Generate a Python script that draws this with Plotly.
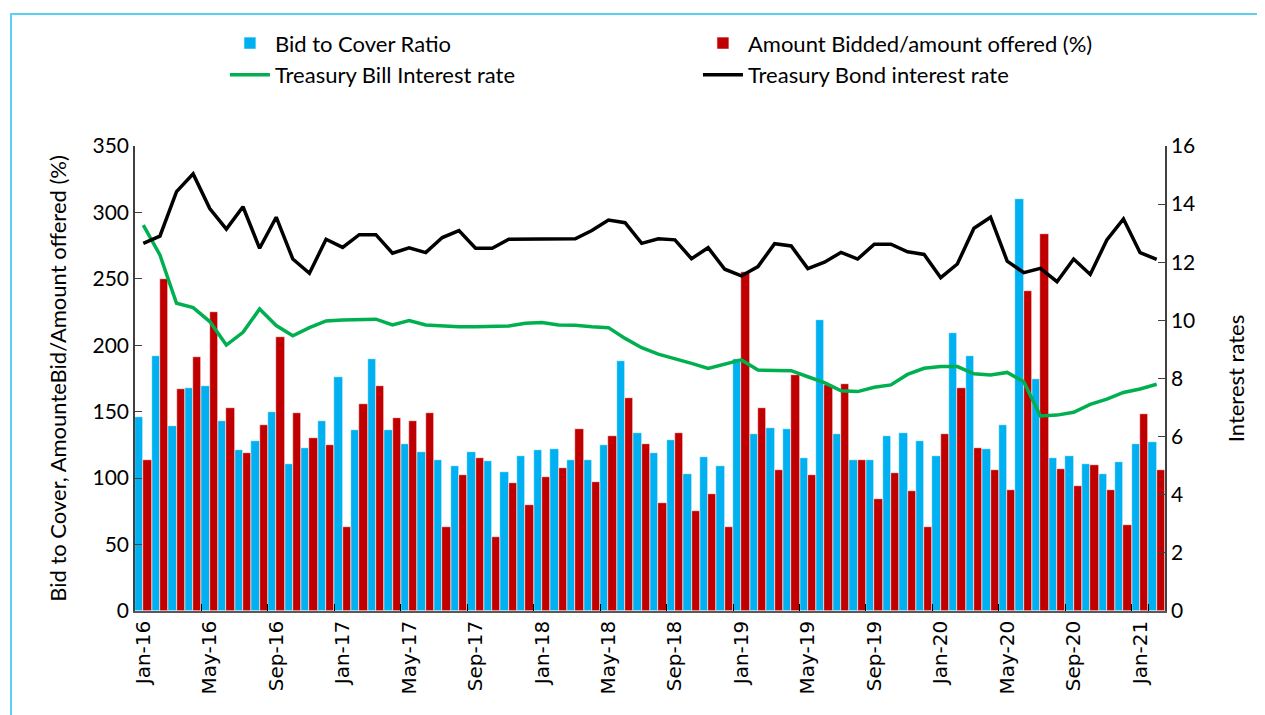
import plotly.graph_objects as go

months = [
    "Jan-16","Feb-16","Mar-16","Apr-16","May-16","Jun-16","Jul-16","Aug-16","Sep-16","Oct-16","Nov-16","Dec-16",
    "Jan-17","Feb-17","Mar-17","Apr-17","May-17","Jun-17","Jul-17","Aug-17","Sep-17","Oct-17","Nov-17","Dec-17",
    "Jan-18","Feb-18","Mar-18","Apr-18","May-18","Jun-18","Jul-18","Aug-18","Sep-18","Oct-18","Nov-18","Dec-18",
    "Jan-19","Feb-19","Mar-19","Apr-19","May-19","Jun-19","Jul-19","Aug-19","Sep-19","Oct-19","Nov-19","Dec-19",
    "Jan-20","Feb-20","Mar-20","Apr-20","May-20","Jun-20","Jul-20","Aug-20","Sep-20","Oct-20","Nov-20","Dec-20",
    "Jan-21","Feb-21",
]

tick_labels = ["Jan-16","May-16","Sep-16","Jan-17","May-17","Sep-17","Jan-18","May-18",
               "Sep-18","Jan-19","May-19","Sep-19","Jan-20","May-20","Sep-20","Jan-21"]

bid_to_cover = [
    146, 192, 139, 168, 169, 143, 121, 128, 150, 111, 123, 143,
    176, 136, 190, 136, 126, 120, 114, 109, 120, 113, 105, 117,
    121, 122, 114, 114, 125, 188, 134, 119, 129, 103, 116, 109,
    190, 133, 138, 137, 115, 219, 133, 114, 114, 132, 134, 128,
    117, 209, 192, 122, 140, 310, 175, 115, 117, 111, 103, 112,
    126, 127,
]

amount_bidded = [
    114, 250, 167, 191, 225, 153, 119, 140, 206, 149, 130, 125,
    63, 156, 169, 145, 143, 149, 63, 102, 115, 56, 96, 80,
    101, 108, 137, 97, 132, 160, 126, 81, 134, 75, 88, 63,
    255, 153, 106, 178, 102, 170, 171, 114, 84, 104, 90, 63,
    133, 168, 123, 106, 91, 241, 284, 107, 94, 110, 91, 65,
    148, 106,
]

tbill_rate = [
    13.28, 12.25, 10.59, 10.44, 9.96, 9.15, 9.59, 10.39, 9.82, 9.47, 9.75, 9.98,
    10.01, 10.01, 10.04, 9.84, 9.99, 9.84, 9.81, 9.78, 9.78, 9.78, 9.81, 9.90,
    9.93, 9.84, 9.83, 9.78, 9.75, 9.38, 9.06, 8.84, 8.69, 8.52, 8.35, 8.49,
    8.64, 8.29, 8.29, 8.27, 8.06, 7.86, 7.58, 7.55, 7.70, 7.78, 8.14, 8.35,
    8.41, 8.41, 8.16, 8.12, 8.21, 7.89, 6.71, 6.74, 6.84, 7.11, 7.29, 7.52,
    7.64, 7.80,
]

tbond_rate = [
    12.65, 12.90, 14.43, 15.04, 13.85, 13.14, 13.91, 12.48, 13.55, 12.11, 11.62, 12.79,
    12.51, 12.95, 12.95, 12.31, 12.50, 12.33, 12.85, 13.09, 12.48, 12.48, 12.79, 12.79,
    12.81, 12.81, 12.81, 13.09, 13.45, 13.36, 12.65, 12.81, 12.77, 12.12, 12.50, 11.76,
    11.53, 11.85, 12.64, 12.56, 11.78, 12.00, 12.34, 12.11, 12.62, 12.62, 12.36, 12.27,
    11.47, 11.94, 13.17, 13.55, 12.04, 11.64, 11.79, 11.33, 12.11, 11.58, 12.77, 13.49,
    12.33, 12.10,
]

FONT = "Lato"

fig = go.Figure()
fig.add_trace(go.Bar(x=months, y=bid_to_cover, name="Bid to Cover Ratio",
                     marker=dict(color="#00b0f0", line=dict(color="white", width=0.6))))
fig.add_trace(go.Bar(x=months, y=amount_bidded, name="Amount Bidded/amount offered (%)",
                     marker=dict(color="#c00000", line=dict(color="white", width=0.6))))
fig.add_trace(go.Scatter(x=months, y=tbill_rate, name="Treasury Bill Interest rate", yaxis="y2",
                         mode="lines", line=dict(color="#00b050", width=3.5)))
fig.add_trace(go.Scatter(x=months, y=tbond_rate, name="Treasury Bond interest rate", yaxis="y2",
                         mode="lines", line=dict(color="#000000", width=3.5)))

fig.update_layout(
    width=1265, height=715,
    margin=dict(l=127, r=108, t=138, b=112, autoexpand=False),
    plot_bgcolor="white", paper_bgcolor="white",
    barmode="group", bargap=0.0, bargroupgap=0.0,
    font=dict(family=FONT, color="#000000"),
    showlegend=True,
    legend=dict(orientation="h", xref="container", yref="container",
                x=0.1715, y=0.980, xanchor="left", yanchor="top",
                entrywidth=418, entrywidthmode="pixels", itemwidth=40,
                font=dict(family=FONT, size=22, color="#000000"),
                bgcolor="rgba(0,0,0,0)", tracegroupgap=0),
    xaxis=dict(type="category", categoryorder="array", categoryarray=months,
               tickvals=tick_labels, ticktext=tick_labels, tickangle=-90,
               tickfont=dict(family="DejaVu Sans", size=20, color="#000000"),
               ticks="inside", ticklen=7, tickcolor="#000000", tickson="boundaries",
               showline=True, linecolor="#595959", linewidth=1.5,
               showgrid=False, zeroline=False, mirror=False),
    yaxis=dict(range=[0, 350], dtick=50, tickfont=dict(family=FONT, size=21),
               ticks="inside", ticklen=7, tickcolor="#404040",
               showline=True, linecolor="#404040", linewidth=1.5,
               showgrid=False, zeroline=False,
               title=dict(text="Bid to Cover, AmounteBid/Amount offered (%)",
                          font=dict(family=FONT, size=22), standoff=20)),
    yaxis2=dict(range=[0, 16], dtick=2, overlaying="y", side="right",
                tickfont=dict(family=FONT, size=21),
                ticks="inside", ticklen=7, tickcolor="#404040",
                showline=True, linecolor="#404040", linewidth=1.5,
                showgrid=False, zeroline=False,
                title=dict(text="Interest rates", font=dict(family=FONT, size=22), standoff=34)),
    shapes=[dict(type="rect", xref="paper", yref="paper",
                 x0=-0.1204, x1=1.2, y0=-0.35, y1=1.2839,
                 line=dict(color="#5ccff5", width=2), fillcolor="rgba(0,0,0,0)", layer="below")],
)

fig.write_html("out.html")
